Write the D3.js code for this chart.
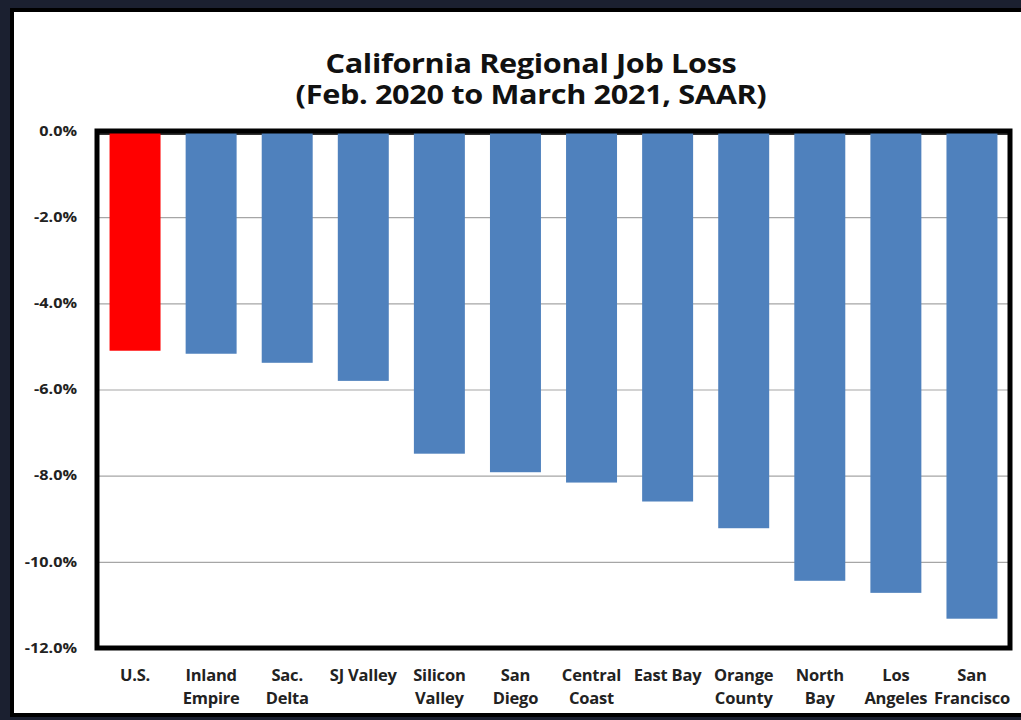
<!DOCTYPE html>
<html>
<head>
<meta charset="utf-8">
<script src="https://cdn.jsdelivr.net/npm/d3@7"></script>
<style>
  html, body { margin: 0; padding: 0; background: #1b2030; }
  svg { display: block; }
  .tick text { font-family: "Open Sans", Lato, sans-serif; font-weight: bold; }
</style>
</head>
<body>
<div id="chart"></div>
<script>
// categorias y valores (% cambio de empleo)
var regiones = ["U.S.", "Inland Empire", "Sac. Delta", "SJ Valley", "Silicon Valley", "San Diego",
                "Central Coast", "East Bay", "Orange County", "North Bay", "Los Angeles", "San Francisco"];
var etiquetas = [["U.S."], ["Inland", "Empire"], ["Sac.", "Delta"], ["SJ Valley"], ["Silicon", "Valley"],
                 ["San", "Diego"], ["Central", "Coast"], ["East Bay"], ["Orange", "County"], ["North", "Bay"],
                 ["Los", "Angeles"], ["San", "Francisco"]];
var perdida = [-5.1, -5.17, -5.38, -5.8, -7.49, -7.92, -8.16, -8.6, -9.22, -10.44, -10.72, -11.32];
var ticksY = [0, -2, -4, -6, -8, -10, -12];
var titulo = ["California Regional Job Loss", "(Feb. 2020 to March 2021, SAAR)"];

var W = 1021, H = 720;
var margin = {top: 131, right: 11, bottom: 72, left: 97},
    width = W - margin.left - margin.right,
    height = H - margin.top - margin.bottom;

var svg = d3.select("#chart").append("svg")
    .attr("width", W)
    .attr("height", H);

// marco exterior
svg.append("rect").attr("x", 0).attr("y", 0).attr("width", W).attr("height", H).attr("fill", "#1b2030");
svg.append("rect").attr("x", 12).attr("y", 10).attr("width", W - 10).attr("height", 705)
    .attr("fill", "#fff").attr("stroke", "#000").attr("stroke-width", 4);

// titulo (algo estirado en horizontal como en la imagen original)
svg.append("g")
    .attr("transform", "translate(531,0) scale(1.18,1)")
  .selectAll(".titulo")
    .data(titulo)
  .enter().append("text")
    .attr("class", "titulo")
    .attr("x", 0)
    .attr("y", function(d, i) { return 73 + i * 31.5; })
    .attr("text-anchor", "middle")
    .style("font-family", "'Open Sans', Lato, sans-serif")
    .style("font-weight", "bold")
    .style("font-size", "26px")
    .style("letter-spacing", "-0.3px")
    .attr("fill", "#111")
    .text(function(d) { return d; });

var x = d3.scaleBand().domain(regiones).range([0, width]).paddingInner(0.33).paddingOuter(0.165);
var y = d3.scaleLinear().domain([0, -12]).range([0, height]);

var g = svg.append("g")
    .attr("transform", "translate(" + margin.left + "," + margin.top + ")");

// grid
g.append("g")
    .attr("class", "grid")
    .call(d3.axisLeft(y).tickValues(ticksY.slice(1, -1)).tickSize(-width).tickFormat(""))
    .call(function(s) {
      s.select(".domain").remove();
      s.selectAll("line").attr("stroke", "#a6a6a6").attr("stroke-width", 1.2);
    });

// linea de cero (visible entre barras)
g.append("line")
    .attr("x1", 0).attr("x2", width)
    .attr("y1", y(0) + 2.5).attr("y2", y(0) + 2.5)
    .attr("stroke", "#333").attr("stroke-width", 3);

// barras
g.selectAll(".bar")
    .data(perdida)
  .enter().append("rect")
    .attr("class", "bar")
    .attr("x", function(d, i) { return x(regiones[i]); })
    .attr("y", y(0))
    .attr("width", x.bandwidth())
    .attr("height", function(d) { return y(d) - y(0); })
    .attr("fill", function(d, i) { return i === 0 ? "#ff0000" : "#4f81bd"; });

// eje y
var sy = 1.2;
g.append("g")
    .attr("class", "y axis")
    .call(d3.axisLeft(y).tickValues(ticksY).tickSize(0)
      .tickFormat(function(d) { return d3.format(".1f")(d).replace("−", "-") + "%"; }))
    .call(function(s) {
      s.select(".domain").remove();
      s.selectAll("text")
        .attr("x", -20 / sy)
        .attr("transform", "scale(" + sy + ",1)")
        .style("font-size", "13.5px")
        .attr("fill", "#222");
    });

// borde del area de dibujo
g.append("rect")
    .attr("x", 0).attr("y", 0)
    .attr("width", width).attr("height", height)
    .attr("fill", "none").attr("stroke", "#000").attr("stroke-width", 5);

// etiquetas x
var lab = g.selectAll(".lab")
    .data(etiquetas)
  .enter().append("text")
    .attr("class", "lab")
    .attr("x", function(d, i) { return x(regiones[i]) + x.bandwidth() / 2; })
    .attr("y", height + 33)
    .attr("text-anchor", "middle")
    .style("font-family", "'Open Sans', Lato, sans-serif")
    .style("font-weight", "bold")
    .style("font-size", "16.5px")
    .style("letter-spacing", "-0.2px")
    .attr("fill", "#222");
lab.selectAll("tspan")
    .data(function(d) { return d; })
  .enter().append("tspan")
    .attr("x", function() { return d3.select(this.parentNode).attr("x"); })
    .attr("dy", function(d, i) { return i === 0 ? 0 : 23; })
    .text(function(d) { return d; });
</script>
</body>
</html>
